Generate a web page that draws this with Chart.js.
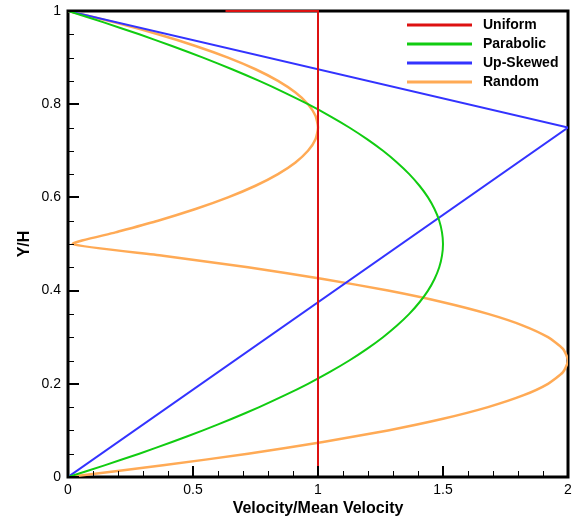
<!DOCTYPE html>
<html lang="en">
<head>
<meta charset="UTF-8" />
<title>Velocity Profiles</title>
<script src="https://cdn.jsdelivr.net/npm/chart.js"></script>
<style>
  html, body { margin: 0; padding: 0; background: #fff; }
</style>
</head>
<body>
<canvas id="profileChart" width="574" height="521"></canvas>
<script>
  // Y/H levels shared by the curved profiles
  const heights = [0, 0.025, 0.05, 0.075, 0.1, 0.125, 0.15, 0.175, 0.2, 0.225,
    0.25, 0.275, 0.3, 0.325, 0.35, 0.375, 0.4, 0.425, 0.45, 0.475,
    0.5, 0.525, 0.55, 0.575, 0.6, 0.625, 0.65, 0.675, 0.7, 0.725,
    0.75, 0.775, 0.8, 0.825, 0.85, 0.875, 0.9, 0.925, 0.95, 0.975, 1];

  const parabolicVel = [0, 0.146, 0.285, 0.416, 0.54, 0.656, 0.765, 0.866, 0.96, 1.046,
    1.125, 1.196, 1.26, 1.316, 1.365, 1.406, 1.44, 1.466, 1.485, 1.496,
    1.5, 1.496, 1.485, 1.466, 1.44, 1.406, 1.365, 1.316, 1.26, 1.196,
    1.125, 1.046, 0.96, 0.866, 0.765, 0.656, 0.54, 0.416, 0.285, 0.146, 0];

  const randomVel = [0, 0.38, 0.72, 1.02, 1.28, 1.5, 1.68, 1.82, 1.92, 1.98,
    2, 1.98, 1.92, 1.82, 1.68, 1.5, 1.28, 1.02, 0.72, 0.38,
    0.02, 0.19, 0.36, 0.51, 0.64, 0.75, 0.84, 0.91, 0.96, 0.99,
    1, 0.99, 0.96, 0.91, 0.84, 0.75, 0.64, 0.51, 0.36, 0.19, 0];

  const uniformVel = [0.63, 1, 1];
  const uniformY = [1, 1, 0];

  const upSkewedVel = [0, 2, 0];
  const upSkewedY = [0, 0.75, 1];

  const xTicks = [0, 0.5, 1, 1.5, 2];
  const yTicks = [0, 0.2, 0.4, 0.6, 0.8, 1];

  const toPoints = (xs, ys) => xs.map((x, i) => ({ x: x, y: ys[i] }));

  const FONT = "'Liberation Sans', Arial, Helvetica, sans-serif";

  // frame, inward ticks and the boxed legend
  const plotDecor = {
    id: "plotDecor",
    beforeDatasetsDraw(chart) {
      const { ctx, chartArea: a } = chart;
      ctx.save();
      ctx.strokeStyle = "#000";
      ctx.lineWidth = 3;
      ctx.strokeRect(a.left, a.top, a.right - a.left, a.bottom - a.top);
      ctx.restore();
    },
    afterDatasetsDraw(chart) {
      const { ctx, chartArea: a, scales } = chart;
      const xs = scales.x, ys = scales.y;
      ctx.save();
      ctx.strokeStyle = "#000";
      // minor ticks
      ctx.lineWidth = 1;
      ctx.beginPath();
      for (let i = 0; i <= 20; i++) {
        const px = Math.round(xs.getPixelForValue(i * 0.1)) + 0.5;
        ctx.moveTo(px, a.bottom);
        ctx.lineTo(px, a.bottom - 6);
      }
      for (let i = 0; i <= 20; i++) {
        const py = Math.round(ys.getPixelForValue(i * 0.05)) + 0.5;
        ctx.moveTo(a.left, py);
        ctx.lineTo(a.left + 6, py);
      }
      ctx.stroke();
      // major ticks
      ctx.lineWidth = 2;
      ctx.beginPath();
      xTicks.forEach((v) => {
        const px = Math.round(xs.getPixelForValue(v));
        ctx.moveTo(px, a.bottom);
        ctx.lineTo(px, a.bottom - 11);
      });
      yTicks.forEach((v) => {
        const py = Math.round(ys.getPixelForValue(v));
        ctx.moveTo(a.left, py);
        ctx.lineTo(a.left + 11, py);
      });
      ctx.stroke();

      // legend
      ctx.font = "bold 14px " + FONT;
      ctx.textBaseline = "middle";
      ctx.fillStyle = "#000";
      chart.data.datasets.forEach((ds, i) => {
        const y = 25 + i * 19;
        ctx.strokeStyle = ds.borderColor;
        ctx.lineWidth = 3;
        ctx.beginPath();
        ctx.moveTo(407, y);
        ctx.lineTo(472, y);
        ctx.stroke();
        ctx.fillText(ds.label, 483, y);
      });
      ctx.restore();
    }
  };

  const lineStyle = { showLine: true, pointRadius: 0, fill: false, borderWidth: 2 };
  const tickLabel = (v) => String(Math.round(v * 100) / 100);

  new Chart(document.getElementById("profileChart"), {
    type: "scatter",
    data: {
      datasets: [
        Object.assign({ label: "Uniform", data: toPoints(uniformVel, uniformY),
          borderColor: "#dd1111", tension: 0 }, lineStyle, { clip: false }),
        Object.assign({ label: "Parabolic", data: toPoints(parabolicVel, heights),
          borderColor: "#11cc11", tension: 0.2 }, lineStyle),
        Object.assign({ label: "Up-Skewed", data: toPoints(upSkewedVel, upSkewedY),
          borderColor: "#3333ff", tension: 0 }, lineStyle),
        Object.assign({ label: "Random", data: toPoints(randomVel, heights),
          borderColor: "#ffaa55", tension: 0.2 }, lineStyle, { borderWidth: 2.5 })
      ]
    },
    options: {
      responsive: false,
      animation: false,
      layout: { padding: { top: 11, right: 6, left: 0, bottom: 0 } },
      plugins: { legend: { display: false }, tooltip: { enabled: false } },
      scales: {
        x: {
          type: "linear",
          min: 0,
          max: 2,
          grid: { display: false, drawTicks: false },
          border: { display: false },
          afterBuildTicks: (s) => { s.ticks = xTicks.map((v) => ({ value: v })); },
          afterFit: (s) => { s.height = 44; s.paddingLeft = 0; s.paddingRight = 0; },
          ticks: { color: "#000", padding: 5, callback: tickLabel, font: { family: FONT, size: 14 } },
          title: {
            display: true,
            text: "Velocity/Mean Velocity",
            color: "#000",
            padding: { top: 0, bottom: 3 },
            font: { family: FONT, size: 16, weight: "bold" }
          }
        },
        y: {
          type: "linear",
          min: 0,
          max: 1,
          grid: { display: false, drawTicks: false },
          border: { display: false },
          afterBuildTicks: (s) => { s.ticks = yTicks.map((v) => ({ value: v })); },
          afterFit: (s) => { s.width = 68; s.paddingTop = 0; s.paddingBottom = 0; },
          ticks: { color: "#000", padding: 7, callback: tickLabel, font: { family: FONT, size: 14 } },
          title: {
            display: true,
            text: "Y/H",
            color: "#000",
            padding: { top: 15, bottom: 0 },
            font: { family: FONT, size: 16, weight: "bold" }
          }
        }
      }
    },
    plugins: [plotDecor]
  });
</script>
</body>
</html>
